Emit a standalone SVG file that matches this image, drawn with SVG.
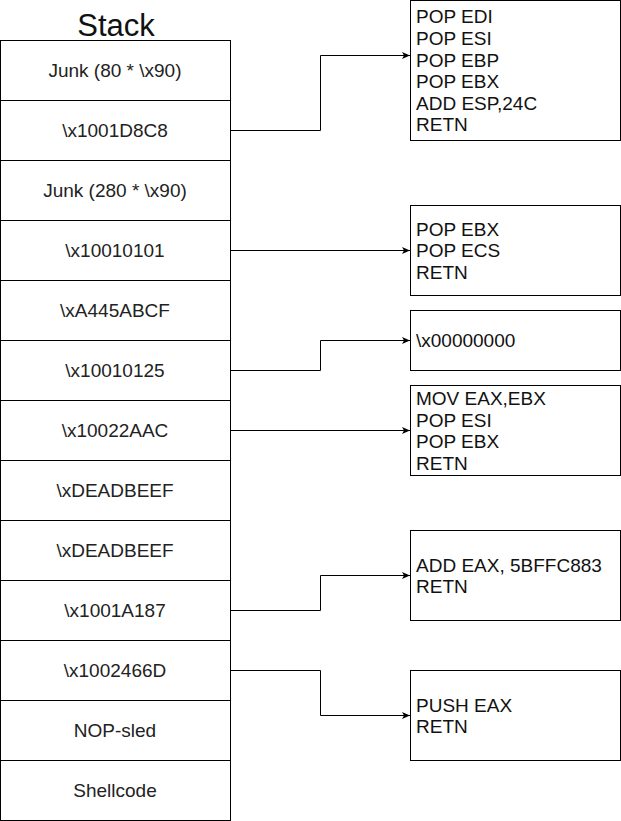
<svg xmlns="http://www.w3.org/2000/svg" width="621" height="821" viewBox="0 0 621 821">
<style>
.cell{fill:#fff;stroke:#000;stroke-width:1}
.lbl{font-family:"Liberation Sans",Arial,sans-serif;font-size:19px;fill:#222;text-anchor:middle}
.box{fill:#fff;stroke:#000;stroke-width:1}
.btxt{font-family:"Liberation Sans",Arial,sans-serif;font-size:19px;fill:#111}
.title{font-family:"Liberation Sans",Arial,sans-serif;font-size:31px;fill:#111;text-anchor:middle}
.conn{fill:none;stroke:#000;stroke-width:1}
</style>
<defs>
<marker id="arr" markerWidth="8" markerHeight="8" refX="8" refY="4" orient="auto" markerUnits="userSpaceOnUse">
<path d="M0,0.5 L8,4 L0,7.5 L2,4 Z" fill="#000"/>
</marker>
</defs>
<rect width="621" height="821" fill="#fff"/>
<text class="title" x="116" y="36">Stack</text>
<g id="stack">
<g id="row1"><rect class="cell" x="0.5" y="40.5" width="230" height="60"/><text class="lbl" x="115" y="76.5">Junk (80 * \x90)</text></g>
<g id="row2"><rect class="cell" x="0.5" y="100.5" width="230" height="60"/><text class="lbl" x="115" y="136.5">\x1001D8C8</text></g>
<g id="row3"><rect class="cell" x="0.5" y="160.5" width="230" height="60"/><text class="lbl" x="115" y="196.5">Junk (280 * \x90)</text></g>
<g id="row4"><rect class="cell" x="0.5" y="220.5" width="230" height="60"/><text class="lbl" x="115" y="256.5">\x10010101</text></g>
<g id="row5"><rect class="cell" x="0.5" y="280.5" width="230" height="60"/><text class="lbl" x="115" y="316.5">\xA445ABCF</text></g>
<g id="row6"><rect class="cell" x="0.5" y="340.5" width="230" height="60"/><text class="lbl" x="115" y="376.5">\x10010125</text></g>
<g id="row7"><rect class="cell" x="0.5" y="400.5" width="230" height="60"/><text class="lbl" x="115" y="436.5">\x10022AAC</text></g>
<g id="row8"><rect class="cell" x="0.5" y="460.5" width="230" height="60"/><text class="lbl" x="115" y="496.5">\xDEADBEEF</text></g>
<g id="row9"><rect class="cell" x="0.5" y="520.5" width="230" height="60"/><text class="lbl" x="115" y="556.5">\xDEADBEEF</text></g>
<g id="row10"><rect class="cell" x="0.5" y="580.5" width="230" height="60"/><text class="lbl" x="115" y="616.5">\x1001A187</text></g>
<g id="row11"><rect class="cell" x="0.5" y="640.5" width="230" height="60"/><text class="lbl" x="115" y="676.5">\x1002466D</text></g>
<g id="row12"><rect class="cell" x="0.5" y="700.5" width="230" height="60"/><text class="lbl" x="115" y="736.5">NOP-sled</text></g>
<g id="row13"><rect class="cell" x="0.5" y="760.5" width="230" height="60"/><text class="lbl" x="115" y="796.5">Shellcode</text></g>
</g>
<g id="gadget1"><rect class="box" x="410.5" y="0.5" width="210" height="140"/>
<text class="btxt" x="416" y="23.3">POP EDI</text><text class="btxt" x="416" y="44.9">POP ESI</text><text class="btxt" x="416" y="66.5">POP EBP</text><text class="btxt" x="416" y="88.1">POP EBX</text><text class="btxt" x="416" y="109.7">ADD ESP,24C</text><text class="btxt" x="416" y="131.3">RETN</text></g>
<g id="gadget2"><rect class="box" x="410.5" y="205.5" width="210" height="90"/>
<text class="btxt" x="416" y="235.7">POP EBX</text><text class="btxt" x="416" y="257.3">POP ECS</text><text class="btxt" x="416" y="278.9">RETN</text></g>
<g id="value3"><rect class="box" x="410.5" y="310.5" width="210" height="60"/>
<text class="btxt" x="416" y="346.5">\x00000000</text></g>
<g id="gadget4"><rect class="box" x="410.5" y="385.5" width="210" height="90"/>
<text class="btxt" x="416" y="404.9">MOV EAX,EBX</text><text class="btxt" x="416" y="426.5">POP ESI</text><text class="btxt" x="416" y="448.1">POP EBX</text><text class="btxt" x="416" y="469.7">RETN</text></g>
<g id="gadget5"><rect class="box" x="410.5" y="530.5" width="210" height="90"/>
<text class="btxt" x="416" y="571.5">ADD EAX, 5BFFC883</text><text class="btxt" x="416" y="593.1">RETN</text></g>
<g id="gadget6"><rect class="box" x="410.5" y="670.5" width="210" height="90"/>
<text class="btxt" x="416" y="711.5">PUSH EAX</text><text class="btxt" x="416" y="733.1">RETN</text></g>
<g id="connectors">
<path class="conn" d="M230.5,130.5 H320.5 V55.5 H410" marker-end="url(#arr)"/>
<path class="conn" d="M230.5,250.5 H410" marker-end="url(#arr)"/>
<path class="conn" d="M230.5,370.5 H320.5 V340.5 H410" marker-end="url(#arr)"/>
<path class="conn" d="M230.5,430.5 H410" marker-end="url(#arr)"/>
<path class="conn" d="M230.5,610.5 H320.5 V575.5 H410" marker-end="url(#arr)"/>
<path class="conn" d="M230.5,670.5 H320.5 V715.5 H410" marker-end="url(#arr)"/>
</g>
</svg>
